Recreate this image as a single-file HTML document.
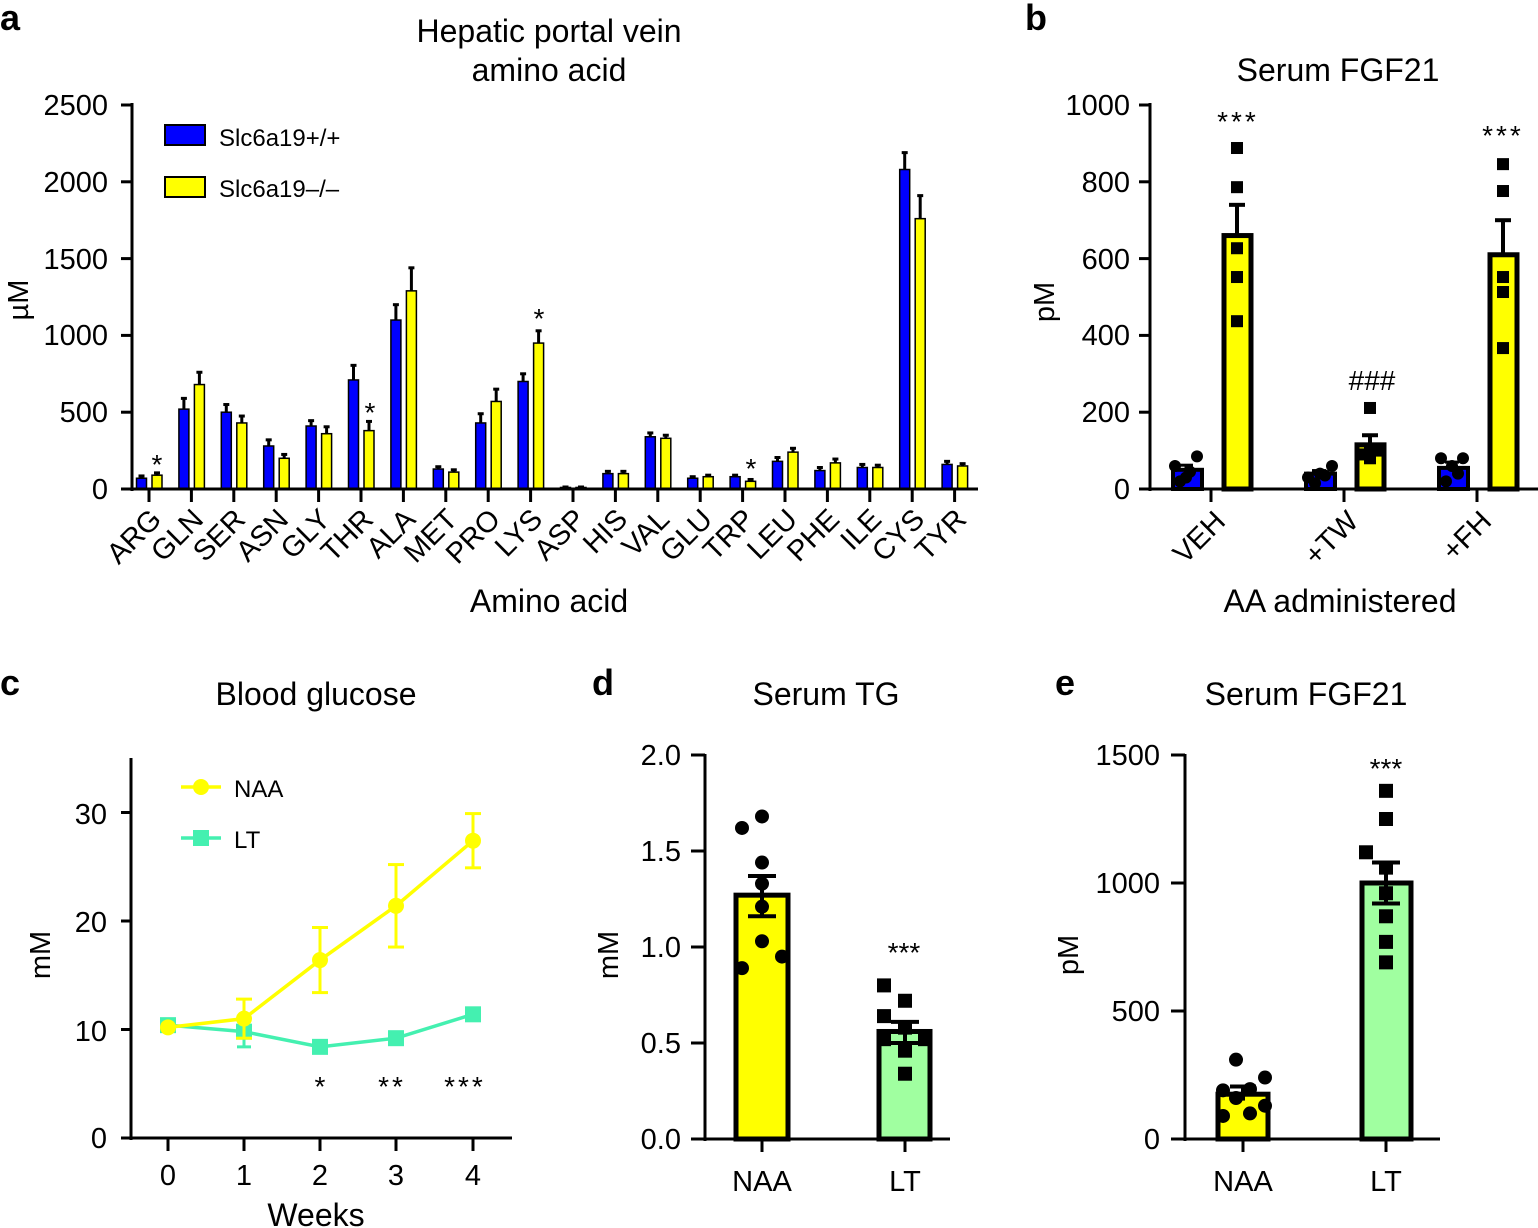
<!DOCTYPE html>
<html><head><meta charset="utf-8"><style>
body{margin:0;background:#fff}
svg{display:block;font-family:"Liberation Sans",sans-serif}
text{fill:#000}
</style></head><body>
<svg id="s" width="1538" height="1228" viewBox="0 0 1538 1228" xmlns="http://www.w3.org/2000/svg">
<g font-weight="bold" font-size="36">
<text x="0" y="30">a</text><text x="1025" y="30">b</text>
<text x="0" y="695">c</text><text x="592" y="695">d</text><text x="1055" y="695">e</text>
</g>
<g font-size="32" text-anchor="middle">
<text x="549" y="42">Hepatic portal vein</text>
<text x="549" y="81">amino acid</text>
<text x="549" y="612">Amino acid</text>
<text x="1338" y="81">Serum FGF21</text>
<text x="1340" y="612">AA administered</text>
<text x="316" y="705">Blood glucose</text>
<text x="316" y="1226">Weeks</text>
<text x="826" y="705">Serum TG</text>
<text x="1306" y="705">Serum FGF21</text>
</g>
<g font-size="29" text-anchor="middle">
<text transform="translate(28,300) rotate(-90)">µM</text>
<text transform="translate(1054,302) rotate(-90)">pM</text>
<text transform="translate(50,955) rotate(-90)">mM</text>
<text transform="translate(618,955) rotate(-90)">mM</text>
<text transform="translate(1078,955) rotate(-90)">pM</text>
</g>
<g font-size="29" text-anchor="end">
<text x="108" y="499">0</text><text x="108" y="422">500</text><text x="108" y="345">1000</text>
<text x="108" y="269">1500</text><text x="108" y="192">2000</text><text x="108" y="115">2500</text>
<text x="1130" y="499">0</text><text x="1130" y="422">200</text><text x="1130" y="345">400</text>
<text x="1130" y="269">600</text><text x="1130" y="192">800</text><text x="1130" y="115">1000</text>
<text x="107" y="1148">0</text><text x="107" y="1041">10</text><text x="107" y="932">20</text><text x="107" y="824">30</text>
<text x="681" y="1149">0.0</text><text x="681" y="1053">0.5</text><text x="681" y="957">1.0</text><text x="681" y="861">1.5</text><text x="681" y="765">2.0</text>
<text x="1160" y="1149">0</text><text x="1160" y="1021">500</text><text x="1160" y="893">1000</text><text x="1160" y="765">1500</text>
</g>
<g font-size="29" text-anchor="end">
<text transform="translate(163,521) rotate(-45)">ARG</text>
<text transform="translate(205,521) rotate(-45)">GLN</text>
<text transform="translate(247,521) rotate(-45)">SER</text>
<text transform="translate(290,521) rotate(-45)">ASN</text>
<text transform="translate(332,521) rotate(-45)">GLY</text>
<text transform="translate(375,521) rotate(-45)">THR</text>
<text transform="translate(417,521) rotate(-45)">ALA</text>
<text transform="translate(459,521) rotate(-45)">MET</text>
<text transform="translate(502,521) rotate(-45)">PRO</text>
<text transform="translate(544,521) rotate(-45)">LYS</text>
<text transform="translate(587,521) rotate(-45)">ASP</text>
<text transform="translate(629,521) rotate(-45)">HIS</text>
<text transform="translate(671,521) rotate(-45)">VAL</text>
<text transform="translate(714,521) rotate(-45)">GLU</text>
<text transform="translate(756,521) rotate(-45)">TRP</text>
<text transform="translate(799,521) rotate(-45)">LEU</text>
<text transform="translate(841,521) rotate(-45)">PHE</text>
<text transform="translate(883,521) rotate(-45)">ILE</text>
<text transform="translate(926,521) rotate(-45)">CYS</text>
<text transform="translate(968,521) rotate(-45)">TYR</text>
<text transform="translate(1227,523) rotate(-45)">VEH</text>
<text transform="translate(1360,523) rotate(-45)">+TW</text>
<text transform="translate(1493,523) rotate(-45)">+FH</text>
</g>
<g font-size="29" text-anchor="middle">
<text x="168" y="1185">0</text><text x="244" y="1185">1</text><text x="320" y="1185">2</text><text x="396" y="1185">3</text><text x="473" y="1185">4</text>
<text x="762" y="1191">NAA</text><text x="905" y="1191">LT</text>
<text x="1243" y="1191">NAA</text><text x="1386" y="1191">LT</text>
</g>
<g font-size="24">
<text x="219" y="146">Slc6a19+/+</text>
<text x="219" y="197">Slc6a19–/–</text>
<text x="234" y="797">NAA</text>
<text x="234" y="848">LT</text>
</g>
<g font-size="28" text-anchor="middle">
<text x="157" y="474">*</text><text x="370" y="422">*</text><text x="539" y="328">*</text><text x="751" y="478">*</text>
<text x="1238" y="131" letter-spacing="3">***</text><text x="1503" y="145" letter-spacing="3">***</text>
<text x="1372" y="390">###</text>
<text x="320" y="1096">*</text><text x="392" y="1096" letter-spacing="3">**</text><text x="465" y="1096" letter-spacing="3">***</text>
<text x="904" y="962">***</text><text x="1386" y="778">***</text>
</g>
<rect x="165" y="125" width="40" height="20" fill="#0000ff" stroke="#000" stroke-width="2"/>
<rect x="165" y="177" width="40" height="20" fill="#ffff00" stroke="#000" stroke-width="2"/>
<g id="g"></g>
</svg>
<script>
var g=document.getElementById('g'),NS='http://www.w3.org/2000/svg';
function el(t,a){var e=document.createElementNS(NS,t);for(var k in a)e.setAttribute(k,a[k]);g.appendChild(e);return e}
function L(x1,y1,x2,y2,w,c){el('line',{x1:x1,y1:y1,x2:x2,y2:y2,stroke:c||'#000','stroke-width':w||3})}
var A=[[70,15,90,15],[520,70,680,80],[500,50,430,45],[280,40,200,25],[410,35,360,45],[710,95,380,60],[1100,100,1290,150],[130,15,110,15],[430,60,570,80],[700,50,950,80],[10,3,10,3],[100,15,100,15],[340,25,330,20],[70,10,80,10],[80,10,50,12],[180,25,240,25],[120,20,170,25],[140,20,140,15],[2080,110,1760,150],[160,20,150,15]];
var sa=384/2500;
A.forEach(function(d,i){var t=149+i*42.4;
 [[t-7.5,d[0],d[1],'#0000ff'],[t+8,d[2],d[3],'#ffff00']].forEach(function(b){
  var h=b[1]*sa,e=b[2]*sa;L(b[0],489-h,b[0],489-h-e,3);L(b[0]-3,489-h-e,b[0]+3,489-h-e,3);
  el('rect',{x:b[0]-5,y:489-h,width:10,height:h,fill:b[3],stroke:'#000','stroke-width':1.5});});
 L(t,489,t,502,3);});
L(132,103,132,491,3);L(121,489,978,489,3);
[0,500,1000,1500,2000,2500].forEach(function(v){L(121,489-v*sa,132,489-v*sa,3)});
var sb=0.384;L(1150,103,1150,491,3);L(1139,489,1538,489,3);
[0,200,400,600,800,1000].forEach(function(v){L(1139,489-v*sb,1150,489-v*sb,3)});
var B=[[1211,50,12,660,80,[888,786,627,552,437],[[1175,60],[1186,30],[1197,85],[1180,20],[1190,45]]],
[1344,40,8,115,25,[211,100,80,90,100],[[1308,30],[1320,40],[1332,60],[1315,15],[1325,35]]],
[1477,55,15,610,90,[846,776,552,513,367],[[1441,80],[1452,60],[1463,80],[1446,20],[1458,40]]]];
B.forEach(function(d){var t=d[0];
 var h=d[1]*sb;el('rect',{x:t-38,y:489-h,width:29,height:h,fill:'#0000ff',stroke:'#000','stroke-width':4});
 var e=(d[1]+d[2])*sb;L(t-25,489-h,t-25,489-e,3);L(t-32,489-e,t-18,489-e,3);
 d[6].forEach(function(p){el('circle',{cx:p[0],cy:489-p[1]*sb,r:6,fill:'#000'})});
 var H=d[3]*sb,E=(d[3]+d[4])*sb;L(t+26,489-H,t+26,489-E,4);L(t+18,489-E,t+34,489-E,4);
 el('rect',{x:t+13,y:489-H,width:27,height:H,fill:'#ffff00',stroke:'#000','stroke-width':5});
 d[5].forEach(function(v,j){var xx=t+26+(j>2&&v<150?(j%2?-8:8):0);el('rect',{x:xx-6,y:489-v*sb-6,width:12,height:12,fill:'#000'})});
 L(t,489,t,502,3);});
L(131,758,131,1140,3);L(121,1138,512,1138,3);
[0,10,20,30].forEach(function(v){L(121,1138-v*10.85,131,1138-v*10.85,3)});
var X=[168,244,320,396,473],N=[10.2,11,16.4,21.4,27.4],Ne=[0,1.8,3,3.8,2.5],T=[10.4,9.8,8.4,9.2,11.4],Te=[0,1.4,0,0,0];
function Y(v){return 1138-v*10.85}
X.forEach(function(x){L(x,1138,x,1151,3)});
el('polyline',{points:X.map(function(x,i){return x+','+Y(T[i])}).join(' '),fill:'none',stroke:'#44f0b0','stroke-width':3.5});
X.forEach(function(x,i){if(Te[i]){L(x,Y(T[i]-Te[i]),x,Y(T[i]+Te[i]),3,'#44f0b0');L(x-7,Y(T[i]-Te[i]),x+7,Y(T[i]-Te[i]),3,'#44f0b0');}
 el('rect',{x:x-8,y:Y(T[i])-8,width:16,height:16,fill:'#44f0b0'})});
el('polyline',{points:X.map(function(x,i){return x+','+Y(N[i])}).join(' '),fill:'none',stroke:'#ffff00','stroke-width':3.5});
X.forEach(function(x,i){if(Ne[i]){L(x,Y(N[i]-Ne[i]),x,Y(N[i]+Ne[i]),3,'#ffff00');L(x-8,Y(N[i]-Ne[i]),x+8,Y(N[i]-Ne[i]),3,'#ffff00');L(x-8,Y(N[i]+Ne[i]),x+8,Y(N[i]+Ne[i]),3,'#ffff00');}
 el('circle',{cx:x,cy:Y(N[i]),r:8,fill:'#ffff00'})});
L(181,787,221,787,3.5,'#ffff00');el('circle',{cx:201,cy:787,r:8,fill:'#ffff00'});
L(181,838,221,838,3.5,'#44f0b0');el('rect',{x:193,y:830,width:16,height:16,fill:'#44f0b0'});
var sd=192;function YD(v){return 1139-v*sd}
L(705,754,705,1141,3);L(691,1139,950,1139,3);
[0,0.5,1,1.5,2].forEach(function(v){L(691,YD(v),705,YD(v),3)});
el('rect',{x:736,y:YD(1.27),width:52,height:1.27*sd,fill:'#ffff00',stroke:'#000','stroke-width':5});
el('rect',{x:879,y:YD(0.56),width:51,height:0.56*sd,fill:'#a0ffa0',stroke:'#000','stroke-width':5});
[[742,1.62],[762,1.68],[762,1.44],[762,1.33],[762,1.21],[762,1.03],[782,0.95],[742,0.89]].forEach(function(p){el('circle',{cx:p[0],cy:YD(p[1]),r:7,fill:'#000'})});
L(762,YD(1.16),762,YD(1.37),4);L(748,YD(1.37),776,YD(1.37),4);L(748,YD(1.16),776,YD(1.16),4);
[[884,0.80],[905,0.72],[884,0.64],[905,0.58],[925,0.52],[884,0.52],[905,0.46],[905,0.34]].forEach(function(p){el('rect',{x:p[0]-7,y:YD(p[1])-7,width:14,height:14,fill:'#000'})});
L(905,YD(0.5),905,YD(0.61),4);L(891,YD(0.61),919,YD(0.61),4);L(891,YD(0.5),919,YD(0.5),4);
L(762,1139,762,1152,3);L(905,1139,905,1152,3);
var se=0.256;function YE(v){return 1139-v*se}
L(1185,754,1185,1141,3);L(1171,1139,1440,1139,3);
[0,500,1000,1500].forEach(function(v){L(1171,YE(v),1185,YE(v),3)});
el('rect',{x:1218,y:YE(175),width:50,height:175*se,fill:'#ffff00',stroke:'#000','stroke-width':5});
el('rect',{x:1362,y:YE(1000),width:49,height:1000*se,fill:'#a0ffa0',stroke:'#000','stroke-width':5});
L(1243,YE(150),1243,YE(205),4);L(1230,YE(205),1256,YE(205),4);
[[1236,310],[1265,240],[1223,190],[1250,195],[1236,160],[1265,130],[1223,90],[1250,100]].forEach(function(p){el('circle',{cx:p[0],cy:YE(p[1]),r:7,fill:'#000'})});
[[1386,1360],[1386,1250],[1366,1120],[1386,1060],[1386,960],[1386,870],[1386,770],[1386,690]].forEach(function(p){el('rect',{x:p[0]-7,y:YE(p[1])-7,width:14,height:14,fill:'#000'})});
L(1386,YE(920),1386,YE(1080),4);L(1372,YE(1080),1400,YE(1080),4);L(1372,YE(920),1400,YE(920),4);
L(1243,1139,1243,1152,3);L(1386,1139,1386,1152,3);
</script>
</body></html>
